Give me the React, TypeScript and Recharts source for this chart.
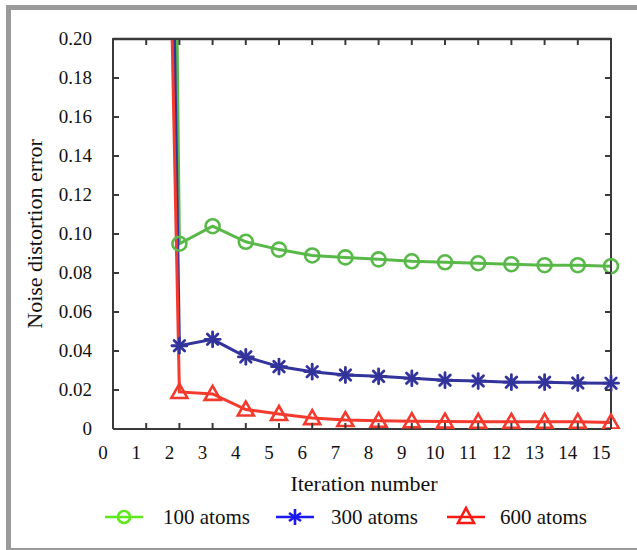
import React from 'react';
import { LineChart, Line, XAxis, YAxis, Legend, ReferenceLine } from 'recharts';

const iterations = [1, 2, 3, 4, 5, 6, 7, 8, 9, 10, 11, 12, 13, 14, 15];
const atoms100 = [1.6, 0.095, 0.104, 0.096, 0.092, 0.089, 0.088, 0.087, 0.086, 0.0855, 0.085, 0.0845, 0.084, 0.084, 0.0835];
const atoms300 = [1.1, 0.0427, 0.046, 0.037, 0.032, 0.0294, 0.0277, 0.027, 0.026, 0.025, 0.0246, 0.024, 0.024, 0.0236, 0.0235];
const atoms600 = [0.85, 0.019, 0.018, 0.01, 0.0077, 0.0056, 0.0046, 0.0042, 0.004, 0.0038, 0.0037, 0.0037, 0.0037, 0.0037, 0.0033];
const xTicks = [0, 1, 2, 3, 4, 5, 6, 7, 8, 9, 10, 11, 12, 13, 14, 15];
const yTicks = [0, 0.02, 0.04, 0.06, 0.08, 0.1, 0.12, 0.14, 0.16, 0.18, 0.2];
const seriesNames = ['100 atoms', '300 atoms', '600 atoms'];

const data = iterations.map((it, i) => ({
  it,
  a100: atoms100[i],
  a300: atoms300[i],
  a600: atoms600[i],
}));

const FONT = '"Liberation Serif", "Times New Roman", serif';
const AXIS = '#3a3a3a';
const C100 = '#58b848';
const C300 = '#33339c';
const C600 = '#f4392d';
const L100 = '#5de81a';
const L300 = '#1a1af0';
const L600 = '#fa1a14';
const MARGIN = { top: 39, right: 6, bottom: 51, left: 10 };
const Y_AXIS_W = 103;
const RIGHT_AXIS_W = 20;
const CHART_W = 637;
const CHART_H = 550;
const X_AXIS_H = 70;
const PLOT_LEFT = MARGIN.left + Y_AXIS_W;
const PLOT_W = CHART_W - PLOT_LEFT - RIGHT_AXIS_W - MARGIN.right;
const PLOT_H = CHART_H - MARGIN.top - MARGIN.bottom - X_AXIS_H;

const CircleDot = (p: any) => {
  const { cx, cy, stroke, index } = p;
  if (cx == null || cy == null) return <g key={`c${index}`} />;
  return <circle key={`c${index}`} cx={cx} cy={cy} r={7} fill="none" stroke={stroke} strokeWidth={2.6} />;
};

const StarDot = (p: any) => {
  const { cx, cy, stroke, index } = p;
  if (cx == null || cy == null) return <g key={`s${index}`} />;
  const r = 7.5;
  const d = r * Math.SQRT1_2;
  return (
    <g key={`s${index}`} stroke={stroke} strokeWidth={2.8} strokeLinecap="round">
      <line x1={cx - r} y1={cy} x2={cx + r} y2={cy} />
      <line x1={cx} y1={cy - r} x2={cx} y2={cy + r} />
      <line x1={cx - d} y1={cy - d} x2={cx + d} y2={cy + d} />
      <line x1={cx - d} y1={cy + d} x2={cx + d} y2={cy - d} />
    </g>
  );
};

const TriDot = (p: any) => {
  const { cx, cy, stroke, index } = p;
  if (cx == null || cy == null) return <g key={`t${index}`} />;
  return (
    <polygon
      key={`t${index}`}
      points={`${cx},${cy - 8} ${cx - 8},${cy + 6} ${cx + 8},${cy + 6}`}
      fill="none"
      stroke={stroke}
      strokeWidth={2.6}
    />
  );
};

const BottomTick = (p: any) => {
  const { x, y, payload } = p;
  const top = y - PLOT_H;
  return (
    <g>
      <line x1={x} y1={y} x2={x} y2={y - 6} stroke={AXIS} strokeWidth={2} />
      <line x1={x} y1={top} x2={x} y2={top + 6} stroke={AXIS} strokeWidth={2} />
      <text x={x - 10} y={y + 30} textAnchor="middle" fontSize={19} fontFamily={FONT} fill="#111">
        {payload.value}
      </text>
    </g>
  );
};

const LeftTick = (p: any) => {
  const { x, y, payload } = p;
  const v = payload.value as number;
  return (
    <g>
      <line x1={x} y1={y} x2={x + 6} y2={y} stroke={AXIS} strokeWidth={2} />
      <text x={x - 21} y={y + 6} textAnchor="end" fontSize={19} fontFamily={FONT} fill="#111">
        {v === 0 ? '0' : v.toFixed(2)}
      </text>
    </g>
  );
};

const RightTick = (p: any) => {
  const { x, y } = p;
  return <line x1={x} y1={y} x2={x - 6} y2={y} stroke={AXIS} strokeWidth={2} />;
};

const XLabel = (p: any) => {
  const vb = p.viewBox || {};
  return (
    <text x={vb.x + vb.width / 2 + 2} y={vb.y + 62} textAnchor="middle" fontSize={22} fontFamily={FONT} fill="#111">
      Iteration number
    </text>
  );
};

const YLabel = (p: any) => {
  const vb = p.viewBox || {};
  const cx = 42;
  const cy = vb.y + vb.height / 2;
  return (
    <text x={cx} y={cy} transform={`rotate(-90, ${cx}, ${cy})`} textAnchor="middle" fontSize={22} fontFamily={FONT} fill="#111">
      Noise distortion error
    </text>
  );
};

const legendItems = [
  { name: seriesNames[0], color: L100, shape: 'circle', x0: 105, text: 163 },
  { name: seriesNames[1], color: L300, shape: 'star', x0: 276, text: 331 },
  { name: seriesNames[2], color: L600, shape: 'tri', x0: 447, text: 500 },
];

const LegendContent = () => (
  <svg width={637} height={30} style={{ display: 'block' }}>
    {legendItems.map((it) => {
      const cy = 15;
      const cx = it.x0 + 19;
      let marker: any = null;
      if (it.shape === 'circle') marker = <circle cx={cx} cy={cy} r={6} fill="none" stroke={it.color} strokeWidth={2.6} />;
      else if (it.shape === 'star') {
        marker = (
          <g stroke={it.color} strokeWidth={2.6}>
            <line x1={cx} y1={cy - 8} x2={cx} y2={cy + 8} />
            <line x1={cx - 6} y1={cy - 4} x2={cx + 6} y2={cy + 4} />
            <line x1={cx - 6} y1={cy + 4} x2={cx + 6} y2={cy - 4} />
          </g>
        );
      } else marker = <polygon points={`${cx},${cy - 9} ${cx - 8},${cy + 6} ${cx + 8},${cy + 6}`} fill="none" stroke={it.color} strokeWidth={2.6} />;
      return (
        <g key={it.name}>
          <line x1={it.x0} y1={cy} x2={it.x0 + 38} y2={cy} stroke={it.color} strokeWidth={2.6} />
          {marker}
          <text x={it.text} y={cy + 7} fontSize={21} fontFamily={FONT} fill="#111">
            {it.name}
          </text>
        </g>
      );
    })}
  </svg>
);

export default function App() {
  return (
    <div>
      <div style={{ position: 'absolute', left: 6, top: 5, width: 5, height: 545, background: '#9a9a9a' }} />
      <div style={{ position: 'absolute', left: 6, top: 5, width: 631, height: 5, background: '#9a9a9a' }} />
      <div style={{ position: 'absolute', left: 6, top: 548, width: 631, height: 2, background: '#9a9a9a' }} />
      <div style={{ position: 'absolute', left: 0, top: 0 }}>
        <LineChart width={CHART_W} height={CHART_H} data={data} margin={MARGIN}>
          <XAxis
            dataKey="it"
            type="number"
            domain={[0, 15]}
            ticks={xTicks}
            interval={0}
            height={X_AXIS_H}
            tickSize={0}
            tickMargin={0}
            tickLine={false}
            axisLine={{ stroke: AXIS, strokeWidth: 2 }}
            tick={<BottomTick />}
            label={<XLabel />}
          />
          <YAxis
            type="number"
            domain={[0, 0.2]}
            allowDataOverflow
            ticks={yTicks}
            interval={0}
            width={Y_AXIS_W}
            tickSize={0}
            tickMargin={0}
            tickLine={false}
            axisLine={{ stroke: AXIS, strokeWidth: 2 }}
            tick={<LeftTick />}
            label={<YLabel />}
          />
          <YAxis
            yAxisId="right"
            orientation="right"
            type="number"
            domain={[0, 0.2]}
            allowDataOverflow
            ticks={yTicks}
            interval={0}
            width={RIGHT_AXIS_W}
            tickSize={0}
            tickMargin={0}
            tickLine={false}
            axisLine={{ stroke: AXIS, strokeWidth: 2 }}
            tick={<RightTick />}
          />
          <ReferenceLine y={0.2} stroke={AXIS} strokeWidth={2.5} ifOverflow="visible" />
          <Line dataKey="a100" name={seriesNames[0]} stroke={C100} strokeWidth={3} dot={<CircleDot />} isAnimationActive={false} />
          <Line dataKey="a300" name={seriesNames[1]} stroke={C300} strokeWidth={3} dot={<StarDot />} isAnimationActive={false} />
          <Line dataKey="a600" name={seriesNames[2]} stroke={C600} strokeWidth={3} dot={<TriDot />} isAnimationActive={false} />
          <Legend
            layout="horizontal"
            verticalAlign="middle"
            align="center"
            content={<LegendContent />}
            wrapperStyle={{ top: 502, left: 0, width: 637, height: 30 }}
          />
        </LineChart>
      </div>
      <div
        style={{
          position: 'absolute',
          left: PLOT_LEFT - 1,
          top: MARGIN.top - 1,
          width: PLOT_W + 2,
          height: 2,
          background: AXIS,
          pointerEvents: 'none',
        }}
      />
    </div>
  );
}
